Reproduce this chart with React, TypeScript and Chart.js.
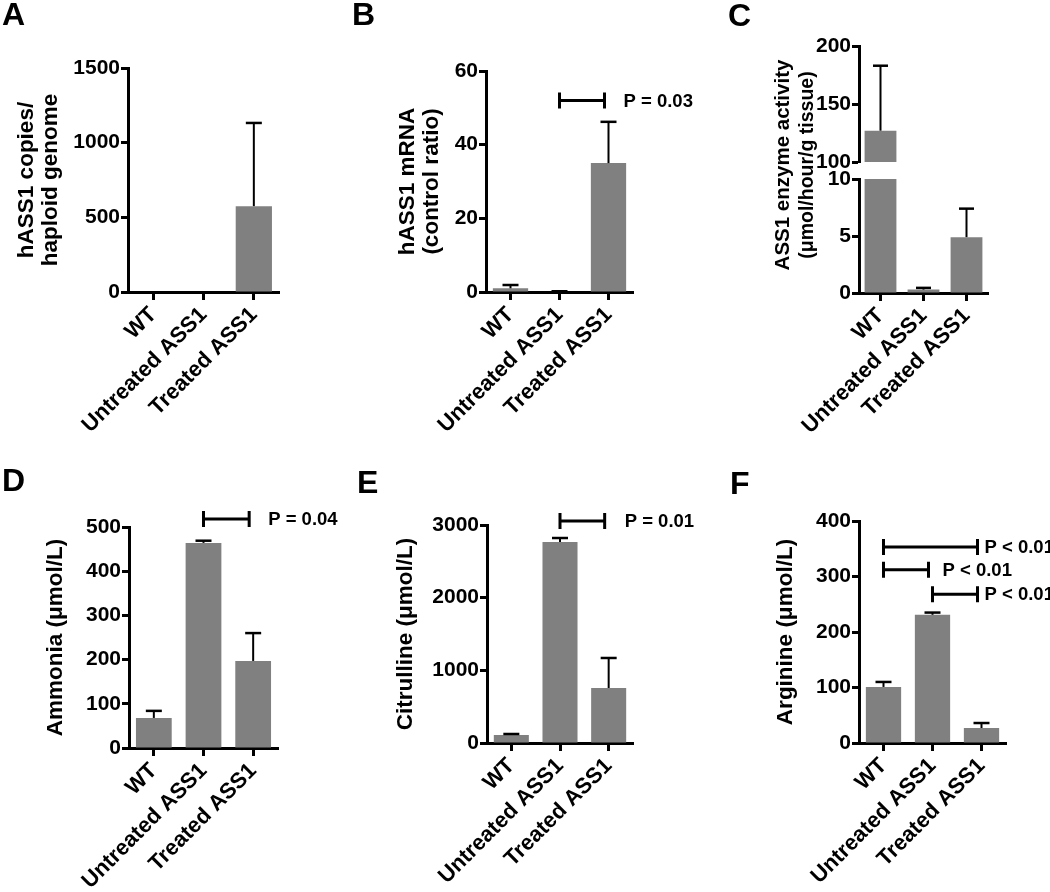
import React, { useEffect, useRef } from 'react';
import { Chart, registerables } from 'chart.js';

Chart.register(...registerables);

// ---------------- data ----------------
const categories = ['WT', 'Untreated ASS1', 'Treated ASS1'];

const copiesMean = [0, 0, 575];
const copiesErr = [0, 0, 557];
const copiesTicks = [0, 500, 1000, 1500];

const mrnaMean = [1.0, 0.15, 35];
const mrnaErr = [0.9, 0.05, 11.2];
const mrnaTicks = [0, 20, 40, 60];
const mrnaBrackets = [{ from: 1, to: 2, y: 52, label: 'P = 0.03' }];

const enzymeMean = [127, 0.3, 4.9];
const enzymeErr = [56, 0.15, 2.5];
const enzymeTicksHigh = [100, 150, 200];
const enzymeTicksLow = [0, 5, 10];

const ammoniaMean = [68, 464, 197];
const ammoniaErr = [16, 5, 63];
const ammoniaTicks = [0, 100, 200, 300, 400, 500];
const ammoniaBrackets = [{ from: 1, to: 2, y: 518, label: 'P = 0.04' }];

const citrullineMean = [110, 2766, 757];
const citrullineErr = [14, 55, 413];
const citrullineTicks = [0, 1000, 2000, 3000];
const citrullineBrackets = [{ from: 1, to: 2, y: 3055, label: 'P = 0.01' }];

const arginineMean = [101, 231, 27];
const arginineErr = [9, 4, 9];
const arginineTicks = [0, 100, 200, 300, 400];
const arginineBrackets = [
  { from: 0, to: 2, y: 353, label: 'P < 0.01' },
  { from: 0, to: 1, y: 312, label: 'P < 0.01' },
  { from: 1, to: 2, y: 268, label: 'P < 0.01' },
];

// ---------------- styles ----------------
const FONT = "Arial, 'Liberation Sans', Helvetica, sans-serif";
const GREY = '#808080';

type Bracket = { from: number; to: number; y: number; label: string };

interface PanelProps {
  box: [number, number, number, number];
  area: [number, number, number, number];
  titleLeft?: number;
  title?: string | string[];
  means: number[];
  errs: number[];
  ticks: number[];
  brackets?: Bracket[];
  gaps?: number[];
  showX?: boolean;
  barPct?: number;
  cap?: number;
}

function BarPanel(p: PanelProps) {
  const ref = useRef<HTMLCanvasElement>(null);
  useEffect(() => {
    const [bl, bt, bw, bh] = p.box;
    const [al, at, ar, ab] = p.area;
    const scaleLeft = p.titleLeft ?? bl;
    const padLeft = scaleLeft - bl;
    const yWidth = al - scaleLeft;
    const padTop = at - bt;
    const padRight = bl + bw - ar;
    const showX = p.showX !== false;
    const xHeight = bt + bh - ab;
    const padBottom = showX ? 0 : xHeight;
    const ticks = p.ticks;
    const cap = p.cap ?? 8;

    const extras = {
      id: 'extras',
      afterDatasetsDraw(chart: any) {
        const ctx = chart.ctx;
        const ys = chart.scales.y;
        const xs = chart.scales.x;
        const a = chart.chartArea;
        const meta = chart.getDatasetMeta(0);
        ctx.save();
        ctx.beginPath();
        ctx.rect(a.left, a.top - 2, a.right - a.left, a.bottom - a.top + 2);
        ctx.clip();
        ctx.strokeStyle = 'black';
        meta.data.forEach((bar: any, i: number) => {
          const e = p.errs[i];
          if (!e) return;
          const x = bar.x;
          const y0 = ys.getPixelForValue(p.means[i]);
          const y1 = ys.getPixelForValue(p.means[i] + e);
          ctx.lineWidth = 2;
          ctx.beginPath();
          ctx.moveTo(x, y0);
          ctx.lineTo(x, y1);
          ctx.stroke();
          ctx.lineWidth = 2.5;
          ctx.beginPath();
          ctx.moveTo(x - cap, y1);
          ctx.lineTo(x + cap, y1);
          ctx.stroke();
        });
        ctx.restore();

        if (p.brackets) {
          ctx.save();
          ctx.strokeStyle = 'black';
          ctx.fillStyle = 'black';
          ctx.lineWidth = 3;
          ctx.font = `bold 18.5px ${FONT}`;
          ctx.textBaseline = 'middle';
          ctx.textAlign = 'left';
          p.brackets.forEach((b, k) => {
            const x1 = xs.getPixelForValue(b.from);
            const x2 = xs.getPixelForValue(b.to) - 4;
            const yy = ys.getPixelForValue(b.y);
            ctx.beginPath();
            ctx.moveTo(x1, yy);
            ctx.lineTo(x2, yy);
            ctx.moveTo(x1, yy - 8);
            ctx.lineTo(x1, yy + 8);
            ctx.moveTo(x2, yy - 8);
            ctx.lineTo(x2, yy + 8);
            ctx.stroke();
            const gap = p.gaps ? p.gaps[k] : 19;
            ctx.fillText(b.label, x2 + gap, yy + 1);
          });
          ctx.restore();
        }
      },
    };

    const xScale: any = {
      type: 'category',
      display: showX,
      offset: true,
      grid: {
        offset: false,
        drawOnChartArea: false,
        color: 'black',
        tickColor: 'black',
        tickLength: 8,
        tickWidth: 3,
      },
      border: { color: 'black', width: 3 },
      ticks: {
        color: 'black',
        font: { family: FONT, size: 22, weight: 'bold' },
        minRotation: 45,
        maxRotation: 45,
        autoSkip: false,
        padding: 2,
      },
    };
    if (showX) xScale.afterFit = (s: any) => { s.height = xHeight; };

    const chart = new Chart(ref.current as HTMLCanvasElement, {
      type: 'bar',
      data: {
        labels: categories,
        datasets: [
          {
            data: p.means,
            backgroundColor: GREY,
            borderWidth: 0,
            barPercentage: p.barPct ?? 0.72,
            categoryPercentage: 1,
            clip: 0,
          } as any,
        ],
      },
      options: {
        animation: false,
        responsive: false,
        maintainAspectRatio: false,
        events: [],
        layout: { padding: { left: padLeft, top: padTop, right: padRight, bottom: padBottom } },
        plugins: {
          legend: { display: false },
          tooltip: { enabled: false },
          title: { display: false },
        },
        scales: {
          x: xScale,
          y: {
            type: 'linear',
            min: ticks[0],
            max: ticks[ticks.length - 1],
            afterBuildTicks: (s: any) => {
              s.ticks = ticks.map((v) => ({ value: v }));
            },
            afterFit: (s: any) => {
              s.width = yWidth;
            },
            grid: {
              drawOnChartArea: false,
              color: 'black',
              tickColor: 'black',
              tickLength: 7,
              tickWidth: 3,
            },
            border: { color: 'black', width: 3 },
            ticks: {
              color: 'black',
              font: { family: FONT, size: 21, weight: 'bold' },
              padding: 1,
              callback: (v: any) => String(v),
            },
            title: p.title
              ? {
                  display: true,
                  text: p.title,
                  color: 'black',
                  font: { family: FONT, size: 22.5, weight: 'bold', lineHeight: 1.1 },
                  padding: 0,
                }
              : { display: false },
          } as any,
        },
      },
      plugins: [extras],
    });
    return () => chart.destroy();
  }, []);
  const [bl, bt, bw, bh] = p.box;
  return (
    <canvas
      ref={ref}
      width={bw}
      height={bh}
      style={{ position: 'absolute', left: bl, top: bt, width: bw, height: bh }}
    />
  );
}

const letterStyle = (left: number, top: number): React.CSSProperties => ({
  position: 'absolute',
  left,
  top,
  fontFamily: FONT,
  fontWeight: 'bold',
  fontSize: 32,
  lineHeight: '32px',
  color: 'black',
});

export default function App() {
  return (
    <div
      style={{
        position: 'absolute',
        left: 0,
        top: 0,
        width: 1050,
        height: 892,
        background: 'white',
        overflow: 'hidden',
      }}
    >
      <BarPanel
        box={[0, 0, 350, 446]}
        area={[128, 68, 279, 292]}
        titleLeft={14}
        title={['hASS1 copies/', 'haploid genome']}
        means={copiesMean}
        errs={copiesErr}
        ticks={copiesTicks}
      />
      <BarPanel
        box={[350, 0, 350, 446]}
        area={[486, 71, 633, 292]}
        titleLeft={395}
        title={['hASS1 mRNA', '(control ratio)']}
        means={mrnaMean}
        errs={mrnaErr}
        ticks={mrnaTicks}
        brackets={mrnaBrackets}
        gaps={[19]}
      />
      <BarPanel
        box={[700, 0, 350, 446]}
        area={[859, 46, 988, 162]}
        showX={false}
        means={enzymeMean}
        errs={enzymeErr}
        ticks={enzymeTicksHigh}
        barPct={0.74}
        cap={7.5}
      />
      <BarPanel
        box={[700, 0, 350, 446]}
        area={[859, 179, 988, 293]}
        means={enzymeMean}
        errs={enzymeErr}
        ticks={enzymeTicksLow}
        barPct={0.74}
        cap={7.5}
      />
      <BarPanel
        box={[0, 446, 350, 446]}
        area={[129, 527, 278, 748]}
        titleLeft={43}
        title="Ammonia (μmol/L)"
        means={ammoniaMean}
        errs={ammoniaErr}
        ticks={ammoniaTicks}
        brackets={ammoniaBrackets}
        gaps={[19]}
      />
      <BarPanel
        box={[350, 446, 350, 446]}
        area={[487, 525, 633, 743]}
        titleLeft={393}
        title="Citrulline (μmol/L)"
        means={citrullineMean}
        errs={citrullineErr}
        ticks={citrullineTicks}
        brackets={citrullineBrackets}
        gaps={[20]}
      />
      <BarPanel
        box={[700, 446, 350, 446]}
        area={[859, 521, 1006, 743]}
        titleLeft={773}
        title="Arginine (μmol/L)"
        means={arginineMean}
        errs={arginineErr}
        ticks={arginineTicks}
        brackets={arginineBrackets}
        gaps={[7, 14, 7]}
      />

      <div
        style={{
          position: 'absolute',
          left: 794 - 130,
          top: 165 - 24,
          width: 260,
          height: 48,
          transform: 'rotate(-90deg)',
          transformOrigin: '50% 50%',
          textAlign: 'center',
          fontFamily: FONT,
          fontWeight: 'bold',
          color: 'black',
          lineHeight: '24px',
          whiteSpace: 'nowrap',
        }}
      >
        <div style={{ fontSize: 20.5 }}>ASS1 enzyme activity</div>
        <div style={{ fontSize: 19.5 }}>(μmol/hour/g tissue)</div>
      </div>

      <div style={letterStyle(2, -2)}>A</div>
      <div style={letterStyle(352, -2)}>B</div>
      <div style={letterStyle(728, -1)}>C</div>
      <div style={letterStyle(2, 464)}>D</div>
      <div style={letterStyle(357, 466)}>E</div>
      <div style={letterStyle(730, 467)}>F</div>
    </div>
  );
}
